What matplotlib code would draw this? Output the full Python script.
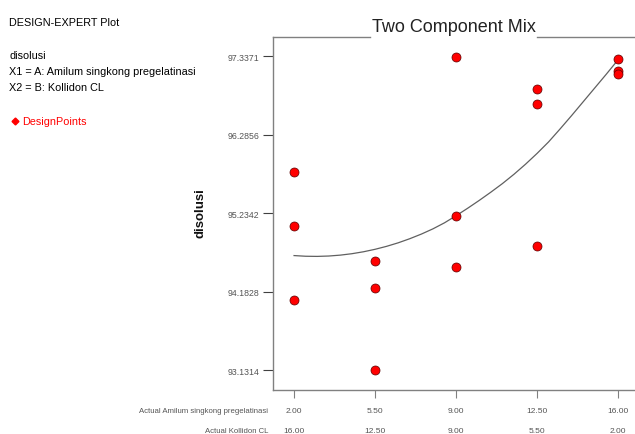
import numpy as np
import matplotlib
matplotlib.use("Agg")
import matplotlib.pyplot as plt
from matplotlib import font_manager
from matplotlib.lines import Line2D
from matplotlib.transforms import blended_transform_factory

# --- DATA ---

amilum = [2, 2, 2, 5.5, 5.5, 5.5, 9, 9, 9, 12.5, 12.5, 12.5, 16, 16, 16]
disolusi = [95.783, 95.064, 94.077, 94.591, 94.230, 93.135,
            97.332, 95.202, 94.519, 96.899, 96.694, 94.796,
            97.297, 97.140, 97.100]

# model curve
curve_a = [2, 2.5, 3, 3.5, 4, 4.5, 5, 5.5, 6, 6.5, 7, 7.5, 8, 8.5, 9,
           9.5, 10, 10.5, 11, 11.5, 12, 12.5, 13, 13.5, 14, 14.5, 15, 15.5, 16]
curve_v = [94.666, 94.657, 94.655, 94.660, 94.672, 94.691, 94.717, 94.750,
           94.790, 94.837, 94.892, 94.954, 95.024, 95.105, 95.200, 95.300,
           95.405, 95.515, 95.630, 95.755, 95.890, 96.035, 96.190, 96.365,
           96.545, 96.730, 96.915, 97.100, 97.290]

x_ticks = [2, 5.5, 9, 12.5, 16]
a_labels = ["2.00", "5.50", "9.00", "12.50", "16.00"]
b_labels = ["16.00", "12.50", "9.00", "5.50", "2.00"]
y_ticks = [93.1314, 94.1828, 95.2342, 96.2856, 97.3371]
y_labels = ["93.1314", "94.1828", "95.2342", "96.2856", "97.3371"]

# --- FONT ---
names = {f.name for f in font_manager.fontManager.ttflist}
narrow = "Liberation Sans Narrow" if "Liberation Sans Narrow" in names else "Liberation Sans"
plt.rcParams["font.family"] = [narrow, "DejaVu Sans"]

W, H = 635, 435
fig = plt.figure(figsize=(W / 100, H / 100), dpi=100)

# axes box in pixels: left 273, right 634, top 38, bottom 391
ax = fig.add_axes([273 / W, 1 - 391 / H, (634 - 273) / W, (391 - 38) / H])

ax.plot(curve_a, curve_v, color="#606060", lw=0.9, zorder=2)
ax.plot(amilum, disolusi, "o", ms=6.5, color="#ff0000",
        mec="#5a0000", mew=0.5, zorder=3)

ax.set_xlim(1.09, 16.69)
ax.set_ylim(92.864, 97.596)

for s in ["top", "right"]:
    ax.spines[s].set_visible(False)
for s in ["left", "bottom"]:
    ax.spines[s].set_color("#808080")
    ax.spines[s].set_linewidth(1.0)

title = ax.text(0.5, 1.03, "Two Component Mix", transform=ax.transAxes,
                ha="center", va="center", fontsize=13, color="#222222")

# top frame line broken by the title
fig.canvas.draw()
bb = title.get_window_extent().transformed(ax.transAxes.inverted())
for x0, x1 in [(0, bb.x0 - 0.005), (bb.x1 + 0.005, 1.0)]:
    ax.add_line(Line2D([x0, x1], [1, 1], transform=ax.transAxes,
                       color="#808080", lw=1.0, clip_on=False))

ax.set_yticks(y_ticks)
ax.set_yticklabels(y_labels)
ax.tick_params(axis="y", direction="out", length=7.5, width=0.8,
               color="#404040", labelsize=6.3, labelcolor="#555555", pad=2.5)

ax.set_xticks(x_ticks)
ax.set_xticklabels([])
ax.tick_params(axis="x", direction="out", length=5.5, width=0.8,
               color="#808080")

tr = blended_transform_factory(ax.transData, ax.transAxes)
for x, a, b in zip(x_ticks, a_labels, b_labels):
    ax.text(x, -0.057, a, transform=tr, ha="center", va="center",
            fontsize=6, color="#555555")
    ax.text(x, -0.116, b, transform=tr, ha="center", va="center",
            fontsize=6, color="#555555")
ax.text(-0.013, -0.057, "Actual Amilum singkong pregelatinasi",
        transform=ax.transAxes, ha="right", va="center", fontsize=5.6,
        color="#555555")
ax.text(-0.013, -0.116, "Actual Kollidon CL",
        transform=ax.transAxes, ha="right", va="center", fontsize=5.6,
        color="#555555")

fig.text(201 / W, 1 - 213 / H, "disolusi", rotation=90, ha="center",
         va="center", fontsize=9.5, fontweight="bold", color="#111111")

# left info block
fs = 7.8
fig.text(9 / W, 1 - 23 / H, "DESIGN-EXPERT Plot", ha="left", va="center",
         fontsize=fs, color="black")
fig.text(9 / W, 1 - 56 / H, "disolusi", ha="left", va="center",
         fontsize=fs, color="black")
fig.text(9 / W, 1 - 72 / H, "X1 = A: Amilum singkong pregelatinasi",
         ha="left", va="center", fontsize=fs, color="black")
fig.text(9 / W, 1 - 88 / H, "X2 = B: Kollidon CL", ha="left", va="center",
         fontsize=fs, color="black")
fig.add_artist(Line2D([15 / W], [1 - 122 / H], marker="D", ms=3.5,
                      color="#ff0000", transform=fig.transFigure))
fig.text(22 / W, 1 - 122 / H, "DesignPoints", ha="left", va="center",
         fontsize=fs, color="#ff0000")

fig.savefig("out.png", dpi=100)
